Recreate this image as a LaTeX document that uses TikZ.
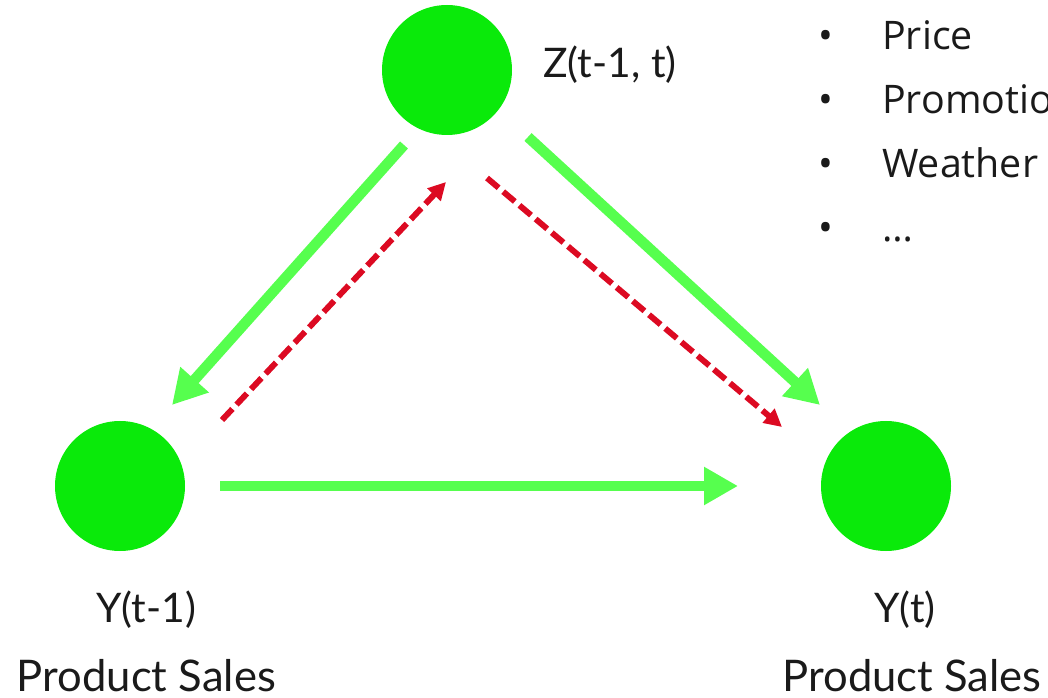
\documentclass[tikz,border=0pt]{standalone}
\usepackage{fontspec}
\setmainfont{Lato}
\newfontfamily\listfont{Open Sans}
\usetikzlibrary{arrows.meta}
\definecolor{state}{HTML}{0AEA0A}
\definecolor{effect}{HTML}{56FF4E}
\definecolor{leak}{HTML}{DC0A22}
\definecolor{ink}{HTML}{1A1A1A}

\begin{document}
\begin{tikzpicture}[
    var/.style={circle,fill=state,minimum size=3.25cm,inner sep=0pt},
    flow/.style={effect,line width=7.5pt,-{Triangle[length=0.85cm,width=0.9cm]}},
    back/.style={leak,line width=4.2pt,dash pattern=on 0.38cm off 0.15cm,-{Triangle[length=0.44cm,width=0.44cm]}},
    lbl/.style={font=\fontsize{29}{34}\selectfont,text=ink,inner sep=0pt},
    lst/.style={font=\listfont\fontsize{28}{33}\selectfont,text=ink,inner sep=0pt}]
  \useasboundingbox (0,0) rectangle (26.2,17.425);
  \clip (0,0) rectangle (26.2,17.425);

  % time slices
  \node[var] (z) at (11.175,15.675) {};
  \node[var] (yp) at (3,5.275) {};
  \node[var] (yt) at (22.15,5.275) {};

  \draw[flow] ([shift={(-1.075,-1.875)}]z.center) -- ([shift={(1.3,2.025)}]yp.center);
  \draw[flow] ([shift={(2.025,-1.675)}]z.center) -- ([shift={(-1.65,2.025)}]yt.center);
  \draw[flow] ([xshift=2.5cm]yp.center) -- ([xshift=-3.7cm]yt.center);
  \draw[back] ([shift={(2.55,1.65)}]yp.center) -- ([shift={(-0.025,-2.8)}]z.center);
  \draw[back] ([shift={(1,-2.7)}]z.center) -- ([shift={(-2.6,1.475)}]yt.center);

  \node[lbl,anchor=west] (zlbl) at (13.575,15.8) {Z(t-1, t)};
  \node[lbl] (yplbl) at (3.65,2.175) {Y(t-1)};
  \node[lbl] (ytlbl) at (22.625,2.175) {Y(t)};
  \node[lbl,font=\fontsize{31}{36}\selectfont,anchor=base] (ypname) at (3.66,0.14) {Product Sales};
  \node[lbl,font=\fontsize{31}{36}\selectfont,anchor=base] (ytname) at (22.8,0.14) {Product Sales};

  % covariates
  \foreach \fac [count=\i] in {Price,Promotion,Weather,…} {
    \node[lst,anchor=base west] (fac\i) at (22.05,17.775-1.6*\i) {\fac};
    \node[lst,anchor=base] (dot\i) at (20.65,17.775-1.6*\i) {•};
  }
\end{tikzpicture}
\end{document}
